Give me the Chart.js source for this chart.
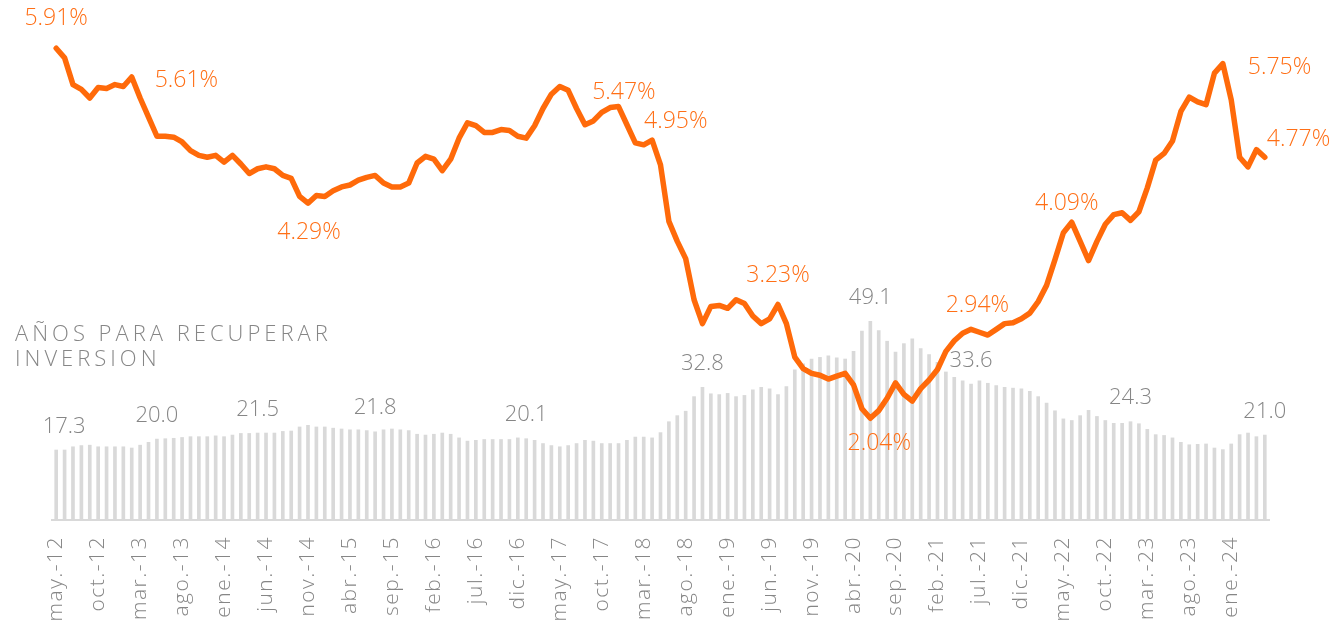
<!DOCTYPE html>
<html lang="es">
<head>
<meta charset="UTF-8">
<title>Rentabilidad y años para recuperar inversión</title>
<script src="https://cdn.jsdelivr.net/npm/chart.js"></script>
<style>
  html, body { margin: 0; padding: 0; background: #fff; }
  .chart-container { position: relative; width: 1340px; height: 625px; }
</style>
</head>
<body>
<div class="chart-container"><canvas id="yieldChart"></canvas></div>
<script>
// months may-12 .. may-24
const monthNames = ['ene.', 'feb.', 'mar.', 'abr.', 'may.', 'jun.', 'jul.', 'ago.', 'sep.', 'oct.', 'nov.', 'dic.'];
const startYear = 12, startMonth = 4, monthCount = 145;

// rentabilidad bruta (%)
const yieldPct = [
  5.91, 5.81, 5.53, 5.48, 5.39, 5.50, 5.49, 5.53, 5.51, 5.61,
  5.39, 5.19, 4.99, 4.99, 4.98, 4.93, 4.84, 4.79, 4.77, 4.79,
  4.72, 4.79, 4.70, 4.60, 4.65, 4.67, 4.65, 4.58, 4.55, 4.36,
  4.29, 4.37, 4.36, 4.42, 4.46, 4.48, 4.53, 4.56, 4.58, 4.50,
  4.46, 4.46, 4.50, 4.71, 4.78, 4.75, 4.63, 4.75, 4.97, 5.13,
  5.10, 5.03, 5.03, 5.06, 5.05, 4.99, 4.97, 5.10, 5.28, 5.43,
  5.51, 5.47, 5.28, 5.11, 5.15, 5.24, 5.29, 5.30, 5.11, 4.92,
  4.90, 4.95, 4.69, 4.10, 3.89, 3.71, 3.28, 3.03, 3.21, 3.22,
  3.19, 3.28, 3.24, 3.11, 3.03, 3.08, 3.23, 3.03, 2.68, 2.56,
  2.51, 2.49, 2.45, 2.48, 2.51, 2.39, 2.14, 2.04, 2.12, 2.25,
  2.41, 2.29, 2.22, 2.35, 2.44, 2.55, 2.74, 2.85, 2.93, 2.97,
  2.94, 2.91, 2.97, 3.03, 3.04, 3.08, 3.14, 3.26, 3.43, 3.70,
  3.98, 4.09, 3.89, 3.69, 3.89, 4.07, 4.17, 4.19, 4.11, 4.20,
  4.45, 4.74, 4.81, 4.94, 5.25, 5.40, 5.35, 5.32, 5.65, 5.75,
  5.37, 4.77, 4.67, 4.85, 4.77
];

// años para recuperar inversión
const yearsToRecover = [
  17.3, 17.3, 18.1, 18.4, 18.5, 18.1, 18.1, 18.1, 18.1, 17.8,
  18.5, 19.2, 20.0, 20.1, 20.2, 20.4, 20.6, 20.6, 20.6, 20.8,
  20.6, 21.0, 21.4, 21.4, 21.5, 21.5, 21.5, 21.9, 22.0, 23.0,
  23.4, 23.0, 23.0, 22.7, 22.5, 22.3, 22.3, 22.1, 21.8, 22.3,
  22.5, 22.3, 22.1, 21.2, 21.0, 21.2, 21.5, 21.2, 20.3, 19.5,
  19.7, 19.9, 19.9, 19.9, 19.9, 20.3, 20.1, 19.7, 18.9, 18.4,
  18.1, 18.4, 18.9, 19.7, 19.5, 18.9, 18.9, 18.9, 19.7, 20.5,
  20.5, 20.3, 21.6, 24.3, 25.8, 26.9, 30.5, 32.8, 31.2, 31.0,
  31.3, 30.5, 30.8, 32.2, 32.8, 32.4, 31.0, 33.0, 37.1, 38.6,
  39.8, 40.2, 40.6, 40.1, 39.8, 41.7, 46.7, 49.1, 46.8, 44.2,
  41.5, 43.6, 44.8, 42.4, 40.9, 39.0, 36.6, 35.3, 34.4, 33.6,
  34.4, 33.8, 33.2, 32.8, 32.6, 32.4, 31.8, 30.5, 28.9, 27.0,
  25.0, 24.6, 25.8, 27.1, 25.6, 24.6, 23.9, 23.9, 24.3, 23.8,
  22.4, 21.1, 20.9, 20.3, 19.2, 18.6, 18.7, 18.8, 17.8, 17.4,
  18.8, 21.1, 21.5, 20.6, 21.0
];

// which points get a value label
const barLabelIdx = [0, 12, 24, 38, 56, 77, 97, 109, 128, 144];
const lineLabelIdx = [0, 9, 30, 61, 71, 86, 97, 110, 121, 139, 144];

// label placement next to its point: [align, dx, dy]
const lineLabelPlace = [
  ['center', 0, -23], ['left', 23, 10], ['center', 1, 36], ['left', 24, 9],
  ['left', -8, -12], ['center', 0, -23], ['center', 9, 32], ['center', -2, -20],
  ['center', -5, -12], ['left', 25, 10], ['left', 2, -11]
];

const categories = [];
for (let i = 0; i < monthCount; i++) {
  const m = (startMonth + i) % 12;
  const y = startYear + Math.floor((startMonth + i) / 12);
  categories.push(monthNames[m] + '-' + y);
}

const ORANGE = '#ff6a0a';
const ORANGE_TEXT = '#ff6f16';
const GRAY_TEXT = '#868686';
const BAR_GRAY = '#d9d9d9';
const FONT = "'Open Sans', 'Lato', sans-serif";

Chart.defaults.font.family = FONT;

const labelPlugin = {
  id: 'valueLabels',
  beforeDraw(chart) {
    chart.ctx.letterSpacing = '1.5px';
  },
  afterDatasetsDraw(chart) {
    const ctx = chart.ctx;
    const xs = chart.scales.x, yLine = chart.scales.y, yBar = chart.scales.y1;
    ctx.save();
    ctx.textBaseline = 'alphabetic';

    // gray labels above bars
    ctx.letterSpacing = '0px';
    ctx.font = "300 22px " + FONT;
    ctx.fillStyle = GRAY_TEXT;
    ctx.textAlign = 'center';
    barLabelIdx.forEach(i => {
      const x = xs.getPixelForValue(i) + (i === 0 ? 8 : 0);
      const y = yBar.getPixelForValue(yearsToRecover[i]) - 17.5;
      ctx.fillText(yearsToRecover[i].toFixed(1), x, y);
    });

    // orange labels on the line
    ctx.font = "300 23px " + FONT;
    ctx.fillStyle = ORANGE_TEXT;
    lineLabelIdx.forEach((i, k) => {
      const [align, dx, dy] = lineLabelPlace[k];
      ctx.textAlign = align;
      const x = xs.getPixelForValue(i) + dx;
      const y = yLine.getPixelForValue(yieldPct[i]) + dy;
      ctx.fillText(yieldPct[i].toFixed(2) + '%', x, y);
    });

    // series caption
    ctx.font = "300 22px " + FONT;
    ctx.fillStyle = GRAY_TEXT;
    ctx.textAlign = 'left';
    ctx.letterSpacing = '4px';
    ctx.fillText('AÑOS PARA RECUPERAR', 15, 341);
    ctx.fillText('INVERSION', 15, 366);
    ctx.restore();
  }
};

const ctx = document.getElementById('yieldChart').getContext('2d');
new Chart(ctx, {
  data: {
    labels: categories,
    datasets: [
      {
        type: 'line',
        label: 'Rentabilidad',
        data: yieldPct,
        yAxisID: 'y',
        borderColor: ORANGE,
        borderWidth: 5.5,
        pointRadius: 0,
        tension: 0,
        borderJoinStyle: 'round',
        borderCapStyle: 'round',
        clip: false,
        order: 0
      },
      {
        type: 'bar',
        label: 'Años para recuperar inversión',
        data: yearsToRecover,
        yAxisID: 'y1',
        backgroundColor: BAR_GRAY,
        barThickness: 3,
        order: 1
      }
    ]
  },
  options: {
    responsive: true,
    maintainAspectRatio: false,
    animation: false,
    layout: { padding: { left: 52, right: 71, top: 0, bottom: 0 } },
    plugins: {
      legend: { display: false },
      tooltip: { enabled: false }
    },
    scales: {
      x: {
        grid: { display: false, drawTicks: false },
        border: { display: true, color: BAR_GRAY, width: 2 },
        ticks: {
          autoSkip: false,
          minRotation: 90,
          maxRotation: 90,
          padding: 16,
          color: GRAY_TEXT,
          font: { size: 21, weight: '300' },
          callback: function(value, index) {
            return index % 5 === 0 ? this.getLabelForValue(value) : '';
          }
        },
        afterFit: function(scale) { scale.height = 105; }
      },
      y: { display: false, min: 0.976, max: 6.415 },
      y1: { display: false, min: 0, max: 128.55 }
    }
  },
  plugins: [labelPlugin]
});
</script>
</body>
</html>
